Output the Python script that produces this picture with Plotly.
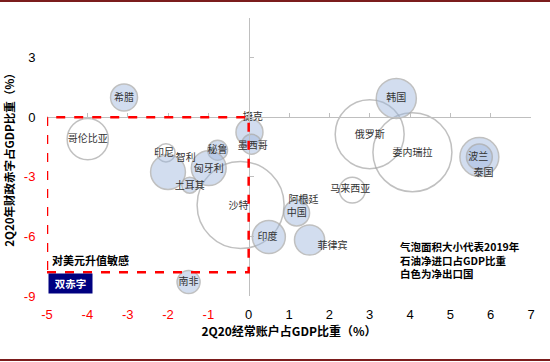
import plotly.graph_objects as go

# ---------------- data ----------------
countries = ["希腊", "哥伦比亚", "捷克", "墨西哥", "印尼", "智利", "秘鲁", "匈牙利",
             "土耳其", "沙特", "印度", "阿根廷", "中国", "菲律宾", "马来西亚",
             "韩国", "俄罗斯", "委内瑞拉", "泰国", "波兰", "南非"]
# 2Q20 current account (% GDP)
current_account = [-3.09, -3.99, 0.02, 0.07, -2.05, -2.0, -0.77, -0.99,
                   -1.46, -0.2, 0.5, 1.36, 1.19, 1.51, 2.57,
                   3.66, 3.0, 4.06, 5.72, 5.72, -1.49]
# 2Q20 fiscal balance (% GDP)
fiscal_balance = [1.0, -1.1, -0.75, -1.36, -1.79, -2.76, -1.66, -2.56,
                  -3.42, -4.42, -6.03, -4.17, -4.82, -6.18, -3.67,
                  0.95, -0.85, -1.76, -2.0, -2.0, -8.3]
# 2019 net oil import / export (% GDP) -> bubble area
oil_share = [2.4, 5.6, 2.4, 1.3, 1.1, 4.0, 1.3, 4.0,
             0.85, 25.0, 3.6, 0.27, 2.2, 3.0, 2.2,
             5.3, 15.7, 20.6, 5.0, 2.2, 1.75]
net_exporter = [False, True, False, False, True, False, False, False,
                False, True, False, False, False, False, True,
                False, True, True, False, False, False]
# label anchor points (data units)
label_x = [-3.09, -3.99, 0.1, 0.1, -2.1, -1.56, -0.77, -0.99,
           -1.46, -0.25, 0.47, 1.36, 1.19, 2.08, 2.52,
           3.66, 3.0, 4.06, 5.82, 5.69, -1.49]
label_y = [0.95, -1.1, 0.0, -1.46, -1.81, -2.06, -1.66, -2.61,
           -3.47, -4.47, -6.03, -4.17, -4.85, -6.53, -3.62,
           0.95, -0.9, -1.81, -2.81, -2.01, -8.34]

x_ticks = list(range(-5, 8))
y_ticks = [-9, -6, -3, 0, 3]
x_range = [-5, 7]
y_range = [-9, 5]
box_x = [-5, 0]
box_y = [-7.8, 0]

MAX_D = 87
sizeref = 2.0 * max(oil_share) / (MAX_D ** 2)

def tick_text(vals):
    out = []
    for v in vals:
        if v < 0:
            out.append(f"<span style='color:#ff0000'>{v}</span>")
        else:
            out.append(f"<span style='color:#000000'>{v}</span>")
    return out

fig = go.Figure()

def subset(flag):
    idx = [i for i, e in enumerate(net_exporter) if e == flag]
    return ([current_account[i] for i in idx], [fiscal_balance[i] for i in idx],
            [oil_share[i] for i in idx], [countries[i] for i in idx])

# net exporters: hollow circles
ex_x, ex_y, ex_s, ex_n = subset(True)
fig.add_trace(go.Scatter(
    x=ex_x, y=ex_y, mode="markers", text=ex_n, hoverinfo="text",
    marker=dict(size=ex_s, sizemode="area", sizeref=sizeref,
                color="rgba(255,255,255,0)",
                line=dict(color="#a6a6a6", width=1.5)),
    showlegend=False))

# net importers: blue bubbles
im_x, im_y, im_s, im_n = subset(False)
fig.add_trace(go.Scatter(
    x=im_x, y=im_y, mode="markers", text=im_n, hoverinfo="text",
    marker=dict(size=im_s, sizemode="area", sizeref=sizeref,
                color="rgba(158,183,222,0.66)",
                line=dict(color="#a6a6a6", width=1.5)),
    showlegend=False))

# labels
fig.add_trace(go.Scatter(
    x=label_x, y=label_y, mode="text", text=countries,
    textposition="middle center",
    textfont=dict(family="Noto Sans CJK SC", size=10, color="#333333"),
    hoverinfo="skip", showlegend=False))

# dummy trace for the cross axes
fig.add_trace(go.Scatter(x=[None], y=[None], xaxis="x2", yaxis="y2",
                         showlegend=False, hoverinfo="skip"))

tick_font = dict(family="Liberation Sans, Arial", size=13)

fig.update_layout(
    width=550, height=362,
    margin=dict(l=47, r=19, t=18, b=66, autoexpand=False),
    paper_bgcolor="white", plot_bgcolor="white",
    xaxis=dict(range=x_range, tickvals=x_ticks, ticktext=tick_text(x_ticks),
               showgrid=False, zeroline=False, showline=False, automargin=False,
               ticks="outside", ticklen=6, tickcolor="rgba(0,0,0,0)",
               tickfont=tick_font,
               title=dict(text="2Q20经常账户占GDP比重（%）", standoff=4,
                          font=dict(family="Noto Sans CJK SC", size=12,
                                    color="#000000", weight="bold"))),
    yaxis=dict(range=y_range, tickvals=y_ticks, ticktext=tick_text(y_ticks),
               showgrid=False, zeroline=False, showline=False, automargin=False,
               ticks="outside", ticklen=8, tickcolor="rgba(0,0,0,0)",
               tickfont=tick_font,
               title=dict(text="2Q20年财政赤字占GDP比重（%）", standoff=6,
                          font=dict(family="Noto Sans CJK SC", size=11.5,
                                    color="#000000", weight="bold"))),
    xaxis2=dict(overlaying="x", matches="x", anchor="free", automargin=False,
                position=(0 - y_range[0]) / (y_range[1] - y_range[0]),
                tickvals=x_ticks, showticklabels=False, showgrid=False,
                zeroline=False, showline=True, linecolor="#bfbfbf",
                linewidth=1, ticks="inside", ticklen=4, tickcolor="#bfbfbf"),
    yaxis2=dict(overlaying="y", matches="y", anchor="free", automargin=False,
                position=(0 - x_range[0]) / (x_range[1] - x_range[0]),
                tickvals=y_ticks, showticklabels=False, showgrid=False,
                zeroline=False, showline=True, linecolor="#bfbfbf",
                linewidth=1, ticks="inside", ticklen=4, tickcolor="#bfbfbf"),
    shapes=[
        dict(type="rect", xref="x", yref="y", x0=box_x[0], x1=box_x[1],
             y0=box_y[0], y1=box_y[1],
             line=dict(color="#ff0000", width=2.5, dash="dash"), layer="above"),
        dict(type="line", xref="paper", yref="paper", xsizemode="pixel",
             ysizemode="pixel", xanchor=0, yanchor=1, x0=-47, x1=503,
             y0=17, y1=17, line=dict(color="#7b1c1c", width=2)),
        dict(type="line", xref="paper", yref="paper", xsizemode="pixel",
             ysizemode="pixel", xanchor=0, yanchor=0, x0=-47, x1=503,
             y0=-64, y1=-64, line=dict(color="#7b1c1c", width=2)),
    ],
    annotations=[
        dict(x=-4.93, y=-7.2, xref="x", yref="y", xanchor="left",
             text="对美元升值敏感", showarrow=False,
             font=dict(family="Noto Sans CJK SC", size=11, color="#000000",
                       weight="bold")),
        dict(x=-4.42, y=-8.35, xref="x", yref="y", text="双赤字",
             showarrow=False, bgcolor="#000080", width=39, height=15,
             borderpad=2,
             font=dict(family="Noto Sans CJK SC", size=10.5, color="#ffffff",
                       weight="bold")),
        dict(x=3.69, y=-7.19, xref="x", yref="y", xanchor="left", align="left",
             text="气泡面积大小代表2019年<br>石油净进口占GDP比重<br>白色为净出口国",
             showarrow=False,
             font=dict(family="Noto Sans CJK SC", size=10.5, color="#000000",
                       weight="bold")),
    ],
)

fig.write_html("out.html",
               config={"displayModeBar": False},
               post_script="document.body.style.margin='0';"
                           "document.body.style.overflow='hidden';")
